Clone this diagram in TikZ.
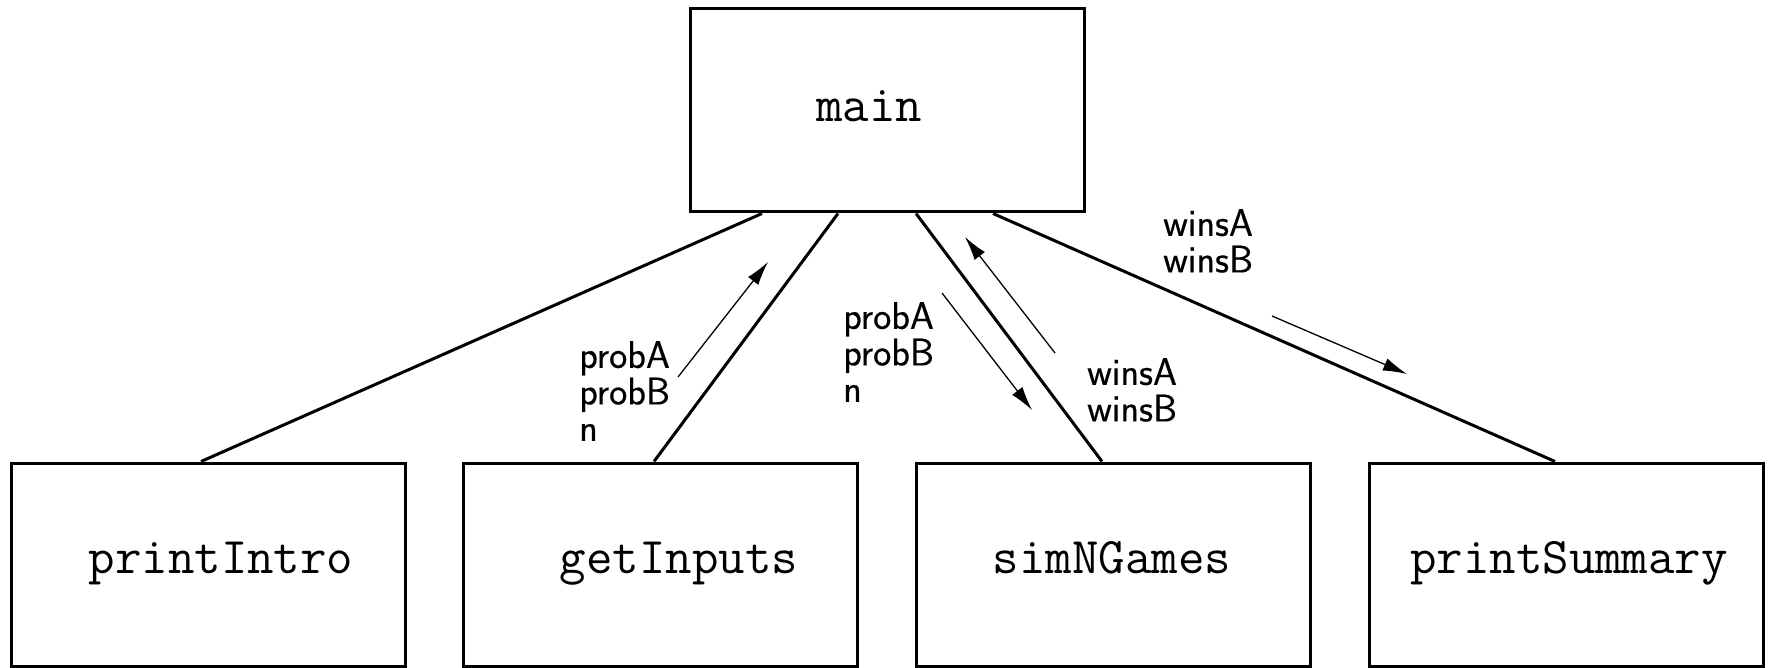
\documentclass[tikz,border=0pt]{standalone}
\usepackage{fontspec}
\setsansfont{Latin Modern Sans}[FakeBold=0.4]
\usetikzlibrary{arrows.meta,calc}
\tikzset{
  fbox/.style={draw=black, line width=3pt, minimum width=394pt, minimum height=203pt, inner sep=0pt},
  fname/.style={font=\ttfamily\fontsize{51.4}{56}\selectfont, anchor=base, inner sep=0pt},
  conn/.style={line width=3pt},
  flow/.style={line width=1.3pt, -{Latex[length=24pt,width=13pt]}},
  plabel/.style={font=\sffamily\fontsize{38.5}{36.5}\selectfont, align=left, anchor=north west, inner sep=0pt}
}
\begin{document}
\begin{tikzpicture}[x=1pt,y=-1pt]
\useasboundingbox (0,0) rectangle (1771,668);
% boxes
\node[fbox] (main) at (887.5,110.5) {};
\node[fbox] (pi) at (208.5,564.5) {};
\node[fbox] (gi) at (660.5,564.5) {};
\node[fbox] (sg) at (1113.5,564.5) {};
\node[fbox] (ps) at (1566.5,564.5) {};
% box texts
\node[fname] (tmain) at (869,122) {main};
\node[fname] (tpi) at (221,573) {printIntro};
\node[fname] (tgi) at (679,573) {getInputs};
\node[fname] (tsg) at (1112,573) {simNGames};
\node[fname] (tps) at (1569,573) {printSummary};
% connectors
\draw[conn] ([xshift=73pt]main.south west) -- ([xshift=191pt]pi.north west);
\draw[conn] ([xshift=149pt]main.south west) -- ([xshift=192pt]gi.north west);
\draw[conn] ([xshift=227pt]main.south west) -- ([xshift=187pt]sg.north west);
\draw[conn] ([xshift=304pt]main.south west) -- ([xshift=187pt]ps.north west);
% data flow arrows
\coordinate (a1s) at (678,377); \coordinate (a1e) at (768,262);
\coordinate (a2s) at (942,293); \coordinate (a2e) at (1032,410);
\coordinate (a3s) at (1055,353); \coordinate (a3e) at (965,237);
\coordinate (a4s) at (1272,316); \coordinate (a4e) at (1407,374);
\draw[flow] (a1s) -- (a1e);
\draw[flow] (a2s) -- (a2e);
\draw[flow] (a3s) -- (a3e);
\draw[flow] (a4s) -- (a4e);
% labels
\node[plabel] (l1) at (579,341) {probA\\probB\\n};
\node[plabel] (l2) at (843,302) {probA\\probB\\n};
\node[plabel] (l3) at (1087,358) {winsA\\winsB};
\node[plabel] (l4) at (1163,209) {winsA\\winsB};
\end{tikzpicture}
\end{document}
